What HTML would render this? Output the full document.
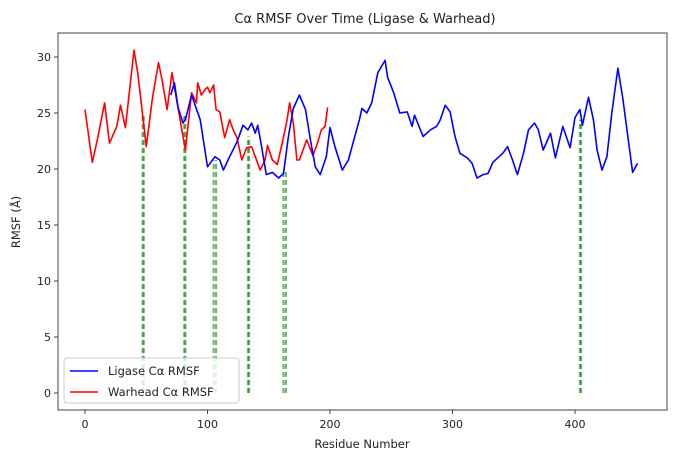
<!DOCTYPE html>
<html><head><meta charset="utf-8"><style>
body{margin:0;background:#fff;font-family:"Liberation Sans","DejaVu Sans",sans-serif;}
svg text{font-family:"DejaVu Sans","Liberation Sans",sans-serif;fill:#222;}
</style></head><body>
<svg id="chart" width="697" height="470"></svg>
<script>
const warheadRes=[0,6,10,16,20,26,29,33,40,43,50,55,60,63,67,71,73,82,87,91,92,95,98,100,102,105,107,110,114,118,121,124,128,132,136,140,143,147,149,153,157,161,165,167,170,173,175,181,186,190,193,196,198];
const warheadVal=[25.3,20.6,22.6,25.9,22.3,23.8,25.7,23.7,30.6,28.6,22.0,26.3,29.5,27.9,25.3,28.6,27.3,21.7,26.8,25.9,27.7,26.6,27.1,27.3,26.8,27.5,25.3,25.1,22.8,24.4,23.5,22.8,20.8,21.9,22.0,20.8,19.9,20.8,22.1,20.8,20.4,22.3,24.4,25.9,24.1,20.8,20.8,22.6,21.2,22.4,23.5,23.8,25.5];
const ligaseRes=[70,73,76,80,82,87,94,100,106,110,113,118,124,129,133,136,139,141,144,148,153,158,162,166,170,175,180,184,188,192,197,200,204,210,215,220,224,226,230,234,239,245,247,252,257,263,267,269,276,282,287,290,294,298,302,306,312,316,320,325,329,333,337,341,345,349,353,358,362,367,370,374,380,384,390,396,400,404,406,411,415,418,422,426,430,435,439,447,451];
const ligaseVal=[26.6,27.7,25.5,24.1,24.4,26.6,24.4,20.2,21.1,20.8,19.9,21.1,22.4,23.9,23.5,24.1,23.2,23.9,22.1,19.5,19.7,19.2,19.6,22.9,25.4,26.6,25.3,22.6,20.2,19.5,21.1,23.7,22.0,19.9,20.8,22.8,24.4,25.4,25.0,25.9,28.6,29.7,28.2,26.8,25.0,25.1,23.8,24.8,22.9,23.5,23.8,24.4,25.7,25.1,22.9,21.4,21.0,20.5,19.2,19.5,19.6,20.6,21.0,21.4,22.0,20.8,19.5,21.4,23.5,24.1,23.5,21.7,23.2,21.0,23.8,21.9,24.6,25.3,23.9,26.4,24.4,21.7,19.9,21.1,25.0,29.0,26.3,19.7,20.5];
const markRes=[47,48,81,82,105,107,133,134,162,164,404,405];
const markVal=[24.8,24.8,24.8,24.8,20.8,20.8,22.9,22.9,19.9,19.9,24.4,24.4];
const xTicks=[0,100,200,300,400];
const yTicks=[0,5,10,15,20,25,30];

const L=58,R=667,T=33,B=410;
const xs=r=>85+(r-0)*1.225;
const ys=v=>393-v*11.2;
const NS="http://www.w3.org/2000/svg";
const svg=document.getElementById('chart');
function mk(tag,attrs,parent){const e=document.createElementNS(NS,tag);for(const k in attrs)e.setAttribute(k,attrs[k]);(parent||svg).appendChild(e);return e;}

const title=mk('text',{x:365,y:23,'text-anchor':'middle','font-size':13});


title.textContent='Cα RMSF Over Time (Ligase & Warhead)';

// markers
markRes.forEach((r,i)=>{
  const l=mk('line',{x1:xs(r),x2:xs(r),y1:ys(0),y2:ys(markVal[i]),stroke:'#008000','stroke-width':2,'stroke-dasharray':'5,3',opacity:0.6});
  
  
});

function line(rs,vs,color,name){
  const d=rs.map((r,i)=>(i?'L':'M')+xs(r).toFixed(1)+','+ys(vs[i]).toFixed(1)).join('');
  const p=mk('path',{d:d,fill:'none',stroke:color,'stroke-width':1.6,'stroke-linejoin':'round'});
  
  
}
line(warheadRes,warheadVal,'#ff0000','warhead-rmsf-line');
line(ligaseRes,ligaseVal,'#0000ff','ligase-rmsf-line');

const frame=mk('rect',{x:L,y:T,width:R-L,height:B-T,fill:'none',stroke:'#444','stroke-width':1});



xTicks.forEach(t=>{
  const g=mk('g',{});
  
  
  mk('line',{x1:xs(t),x2:xs(t),y1:B,y2:B+4,stroke:'#444'},g);
  const tx=mk('text',{x:xs(t),y:B+18,'text-anchor':'middle','font-size':11},g);tx.textContent=t;
});
yTicks.forEach(t=>{
  const g=mk('g',{});
  
  
  mk('line',{x1:L-4,x2:L,y1:ys(t),y2:ys(t),stroke:'#444'},g);
  const tx=mk('text',{x:L-7,y:ys(t)+4,'text-anchor':'end','font-size':11},g);tx.textContent=t;
});
const xl=mk('text',{x:362,y:448,'text-anchor':'middle','font-size':11.5});


xl.textContent='Residue Number';
const yl=mk('text',{x:20,y:222,'text-anchor':'middle','font-size':11.5,transform:'rotate(-90 20 222)'});


yl.textContent='RMSF (Å)';

const lg=mk('g',{});


mk('rect',{x:64,y:358,width:175,height:45,rx:3,fill:'#fff','fill-opacity':0.8,stroke:'#ccc'},lg);
[['Ligase Cα RMSF','#0000ff',371],['Warhead Cα RMSF','#ff0000',392]].forEach(e=>{
  const g=mk('g',{},lg);
  
  
  mk('line',{x1:70,x2:98,y1:e[2],y2:e[2],stroke:e[1],'stroke-width':1.6},g);
  const t=mk('text',{x:108,y:e[2]+4,'font-size':11.5},g);t.textContent=e[0];
});
</script>
</body></html>
